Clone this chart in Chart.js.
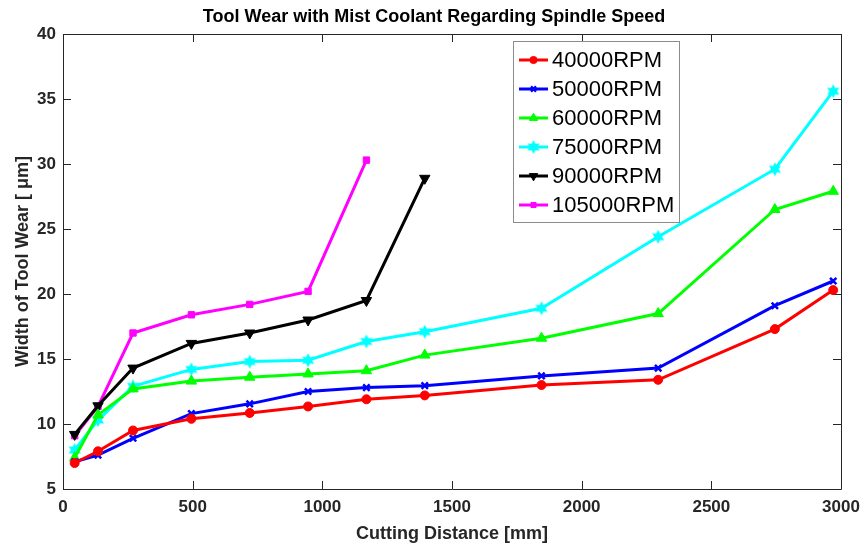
<!DOCTYPE html>
<html>
<head>
<meta charset="utf-8">
<script src="https://cdn.jsdelivr.net/npm/chart.js@4.4.1/dist/chart.umd.min.js"></script>
<style>
  html, body { margin: 0; padding: 0; background: #fff; }
  #wrap { width: 865px; height: 545px; }
</style>
</head>
<body>
<div id="wrap"><canvas id="wearChart"></canvas></div>
<script>
// Cutting distance (mm) at each measurement
const distance = [45, 135, 270, 495, 720, 945, 1170, 1395, 1845, 2295, 2745, 2970];

// Width of tool wear (um) per spindle speed
const rpm40000 = [7.0, 7.9, 9.5, 10.4, 10.85, 11.35, 11.9, 12.2, 13.0, 13.4, 17.3, 20.3];
const rpm50000 = [7.1, 7.6, 8.9, 10.8, 11.55, 12.5, 12.8, 12.95, 13.7, 14.3, 19.1, 21.0];
const rpm60000 = [7.4, 10.7, 12.7, 13.3, 13.6, 13.85, 14.1, 15.3, 16.6, 18.5, 26.5, 27.9];
const rpm75000 = [8.0, 10.3, 12.9, 14.2, 14.8, 14.9, 16.35, 17.1, 18.9, 24.4, 29.6, 35.6];
const rpm90000 = [9.2, 11.4, 14.3, 16.2, 17.0, 18.0, 19.5, 28.9];
const rpm105000 = [9.1, 11.35, 17.0, 18.4, 19.2, 20.2, 30.3];

const seriesNames = ['40000RPM', '50000RPM', '60000RPM', '75000RPM', '90000RPM', '105000RPM'];
const seriesColors = ['#ff0000', '#0000ff', '#00ff00', '#00ffff', '#000000', '#ff00ff'];

const xTicks = [0, 500, 1000, 1500, 2000, 2500, 3000];
const yTicks = [5, 10, 15, 20, 25, 30, 35, 40];

const chartTitle = 'Tool Wear with Mist Coolant Regarding Spindle Speed';

const FONT = "Arial, 'Liberation Sans', Helvetica, sans-serif";
const AXIS_GRAY = '#262626';

// filled six-point star used as the 75000RPM marker
function hexagram(r, color) {
  const c = document.createElement('canvas');
  const s = Math.ceil(r * 2 + 2);
  c.width = s; c.height = s;
  const g = c.getContext('2d');
  g.fillStyle = color;
  const cx = s / 2, cy = s / 2;
  g.beginPath();
  for (let i = 0; i < 12; i++) {
    const a = -Math.PI / 2 + i * Math.PI / 6;
    const rad = i % 2 === 0 ? r : r * 0.55;
    const px = cx + rad * Math.cos(a), py = cy + rad * Math.sin(a);
    if (i === 0) g.moveTo(px, py); else g.lineTo(px, py);
  }
  g.closePath();
  g.fill();
  return c;
}

function toPoints(vals) {
  return vals.map((v, i) => ({ x: distance[i], y: v }));
}

const markers = [
  { pointStyle: 'circle', pointRadius: 4.5, rotation: 0, pointBorderWidth: 1 },
  { pointStyle: 'crossRot', pointRadius: 4.5, rotation: 0, pointBorderWidth: 2.5 },
  { pointStyle: 'triangle', pointRadius: 6, rotation: 0, pointBorderWidth: 1 },
  { pointStyle: hexagram(7, '#00ffff'), pointRadius: 7, rotation: 0, pointBorderWidth: 0 },
  { pointStyle: 'triangle', pointRadius: 6, rotation: 180, pointBorderWidth: 1 },
  { pointStyle: 'rect', pointRadius: 4.5, rotation: 0, pointBorderWidth: 1 }
];

const allSeries = [rpm40000, rpm50000, rpm60000, rpm75000, rpm90000, rpm105000];

const datasets = allSeries.map((vals, i) => ({
  label: seriesNames[i],
  data: toPoints(vals),
  borderColor: seriesColors[i],
  backgroundColor: seriesColors[i],
  pointBackgroundColor: seriesColors[i],
  pointBorderColor: seriesColors[i],
  borderWidth: 3,
  pointStyle: markers[i].pointStyle,
  pointRadius: markers[i].pointRadius,
  pointRotation: markers[i].rotation,
  pointBorderWidth: markers[i].pointBorderWidth,
  fill: false,
  tension: 0
}));

// MATLAB-like box with inward ticks on all four sides
const axesBox = {
  id: 'axesBox',
  beforeDatasetsDraw(chart) {
    const { ctx, chartArea: a, scales } = chart;
    const len = 8;
    ctx.save();
    ctx.strokeStyle = AXIS_GRAY;
    ctx.lineWidth = 1;
    ctx.beginPath();
    ctx.rect(Math.round(a.left) + 0.5, Math.round(a.top) + 0.5,
             Math.round(a.right - a.left), Math.round(a.bottom - a.top));
    scales.x.ticks.forEach(t => {
      const px = Math.round(scales.x.getPixelForValue(t.value)) + 0.5;
      ctx.moveTo(px, a.bottom); ctx.lineTo(px, a.bottom - len);
      ctx.moveTo(px, a.top); ctx.lineTo(px, a.top + len);
    });
    scales.y.ticks.forEach(t => {
      const py = Math.round(scales.y.getPixelForValue(t.value)) + 0.5;
      ctx.moveTo(a.left, py); ctx.lineTo(a.left + len, py);
      ctx.moveTo(a.right, py); ctx.lineTo(a.right - len, py);
    });
    ctx.stroke();
    ctx.restore();
  }
};

// title centred over the whole figure
const figTitle = {
  id: 'figTitle',
  afterDraw(chart) {
    const { ctx } = chart;
    ctx.save();
    ctx.font = 'bold 18px ' + FONT;
    ctx.fillStyle = '#000';
    ctx.textAlign = 'center';
    ctx.textBaseline = 'middle';
    ctx.fillText(chartTitle, 434, 17);
    ctx.restore();
  }
};

// legend box in the upper middle of the plot
const boxLegend = {
  id: 'boxLegend',
  afterDraw(chart) {
    const { ctx } = chart;
    const x0 = 513, y0 = 41, w = 166, h = 181, rowH = 29;
    ctx.save();
    ctx.fillStyle = '#fff';
    ctx.fillRect(x0, y0, w, h);
    ctx.strokeStyle = '#8c8c8c';
    ctx.lineWidth = 1;
    ctx.strokeRect(x0 + 0.5, y0 + 0.5, w, h);
    ctx.font = '22px ' + FONT;
    ctx.textBaseline = 'middle';
    chart.data.datasets.forEach((ds, i) => {
      const cy = y0 + 19 + i * rowH;
      ctx.strokeStyle = ds.borderColor;
      ctx.lineWidth = 3;
      ctx.beginPath();
      ctx.moveTo(x0 + 6, cy); ctx.lineTo(x0 + 35, cy);
      ctx.stroke();
      ctx.fillStyle = ds.borderColor;
      ctx.strokeStyle = ds.borderColor;
      ctx.lineWidth = ds.pointBorderWidth;
      Chart.helpers.drawPoint(ctx, {
        pointStyle: ds.pointStyle,
        rotation: ds.pointRotation,
        radius: ds.pointRadius * 0.8,
        borderWidth: ds.pointBorderWidth
      }, x0 + 20.5, cy);
      ctx.fillStyle = '#000';
      ctx.fillText(ds.label, x0 + 39, cy + 1);
    });
    ctx.restore();
  }
};

new Chart(document.getElementById('wearChart'), {
  type: 'line',
  data: { datasets: datasets },
  plugins: [axesBox, boxLegend, figTitle],
  options: {
    responsive: true,
    maintainAspectRatio: false,
    animation: false,
    layout: { padding: { left: 0, right: 24, top: 34, bottom: 0 } },
    plugins: {
      legend: { display: false },
      tooltip: { enabled: false },
      title: { display: false }
    },
    scales: {
      x: {
        type: 'linear',
        min: 0,
        max: 3000,
        afterBuildTicks(scale) { scale.ticks = xTicks.map(v => ({ value: v })); },
        afterFit(scale) {
          scale.height = 56;
          scale.paddingLeft = 0;
          scale.paddingRight = 0;
        },
        grid: { display: false, drawTicks: false },
        border: { display: false },
        ticks: {
          color: AXIS_GRAY,
          padding: 8,
          maxRotation: 0,
          callback: v => String(v),
          font: { family: FONT, size: 17, weight: 'bold' }
        },
        title: {
          display: true,
          text: 'Cutting Distance [mm]',
          color: AXIS_GRAY,
          padding: { top: 2, bottom: 0 },
          font: { family: FONT, size: 18, weight: 'bold' }
        }
      },
      y: {
        type: 'linear',
        min: 5,
        max: 40,
        afterBuildTicks(scale) { scale.ticks = yTicks.map(v => ({ value: v })); },
        afterFit(scale) {
          scale.width = 63;
          scale.paddingTop = 0;
          scale.paddingBottom = 0;
        },
        grid: { display: false, drawTicks: false },
        border: { display: false },
        ticks: {
          color: AXIS_GRAY,
          padding: 7,
          callback: v => String(v),
          font: { family: FONT, size: 17, weight: 'bold' }
        },
        title: {
          display: true,
          text: 'Width of Tool Wear [ \u03BCm]',
          color: AXIS_GRAY,
          padding: { top: 12, bottom: 0 },
          font: { family: FONT, size: 18, weight: 'bold' }
        }
      }
    }
  }
});
</script>
</body>
</html>
